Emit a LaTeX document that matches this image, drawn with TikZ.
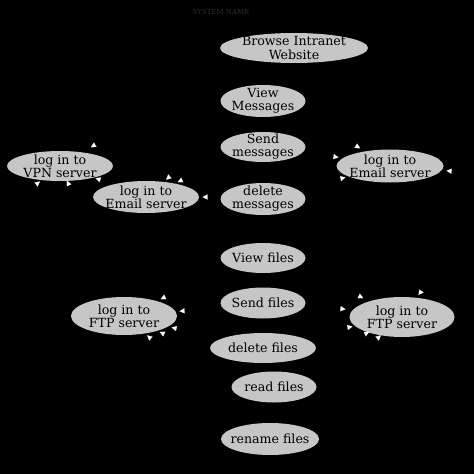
\documentclass[tikz,border=0pt]{standalone}
\usepackage{fontspec}
\setmainfont{DejaVu Serif}
\usetikzlibrary{arrows.meta,calc,shapes.geometric}
\tikzset{
  uc/.style={ellipse, fill=ucgray, draw=none, inner sep=0pt},
  lbl/.style={inner sep=0pt, align=center,
    font=\fontsize{12.6}{13.2}\selectfont, text=black},
  tip/.style={draw=black, line width=0.1pt,
    -{Triangle[color=white, fill=white, length=5pt, width=5pt]}}
}
\definecolor{ucgray}{HTML}{C6C6C6}
\definecolor{titlegray}{HTML}{2E2E2E}
\begin{document}
\begin{tikzpicture}[x=1pt,y=-1pt]
\fill[black] (0,0) rectangle (474,474);
\useasboundingbox (0,0) rectangle (474,474);
\node[text=titlegray, font=\fontsize{7}{7}\selectfont] (title) at (221,12) {SYSTEM NAME};
% use cases (ellipses)
\node[uc, minimum width=148, minimum height=30] (browse) at (294,48) {};
\node[uc, minimum width=85, minimum height=32] (viewm) at (263,101) {};
\node[uc, minimum width=85, minimum height=30] (sendm) at (263,147) {};
\node[uc, minimum width=85, minimum height=32] (delm) at (263,199) {};
\node[uc, minimum width=85, minimum height=30] (viewf) at (263,258) {};
\node[uc, minimum width=85, minimum height=31] (sendf) at (263,303) {};
\node[uc, minimum width=106, minimum height=30] (delf) at (263,348) {};
\node[uc, minimum width=85, minimum height=31] (readf) at (274,387) {};
\node[uc, minimum width=98, minimum height=32] (renf) at (270,439) {};
\node[uc, minimum width=106, minimum height=30] (vpn) at (60,166) {};
\node[uc, minimum width=106, minimum height=32] (emailL) at (146,197) {};
\node[uc, minimum width=107, minimum height=33] (emailR) at (390,166) {};
\node[uc, minimum width=106, minimum height=38] (ftpL) at (124,316) {};
\node[uc, minimum width=105, minimum height=40] (ftpR) at (402,317) {};
% labels
\node[lbl] (browseT) at (browse) {Browse Intranet\\Website};
\node[lbl] (viewmT) at (viewm) {View\\Messages};
\node[lbl] (sendmT) at (sendm) {Send\\messages};
\node[lbl] (delmT) at (delm) {delete\\messages};
\node[lbl] (viewfT) at (viewf) {View files};
\node[lbl] (sendfT) at (sendf) {Send files};
\node[lbl] (delfT) at (delf) {delete files};
\node[lbl] (readfT) at (readf) {read files};
\node[lbl] (renfT) at (renf) {rename files};
\node[lbl] (vpnT) at (vpn) {log in to\\VPN server};
\node[lbl] (emailLT) at (emailL) {log in to\\Email server};
\node[lbl] (emailRT) at (emailR) {log in to\\Email server};
\node[lbl] (ftpLT) at (ftpL) {log in to\\FTP server};
\node[lbl] (ftpRT) at (ftpR) {log in to\\FTP server};
% free ends of the (invisible) connectors
\foreach \n/\x/\y in {v1/93/146, v2/38/183, v3/68/183, v4/98/179,
    el1/168/178, el2/180/181, el3/205/197,
    er1/358/147, er2/336/157, er3/343/178, er4/449/171,
    fl1/163/298, fl2/182/311, fl3/174/328, fl4/162/333, fl5/149/337,
    fr1/361/297, fr2/420/293, fr3/343/309, fr4/350/327, fr5/367/333, fr6/379/337}
  \coordinate (\n) at (\x,\y);
\foreach \c/\t in {v1/vpn, v2/vpn, v3/vpn, v4/vpn,
    el1/emailL, el2/emailL, el3/emailL,
    er1/emailR, er2/emailR, er3/emailR, er4/emailR,
    fl1/ftpL, fl2/ftpL, fl3/ftpL, fl4/ftpL, fl5/ftpL,
    fr1/ftpR, fr2/ftpR, fr3/ftpR, fr4/ftpR, fr5/ftpR, fr6/ftpR}
  \draw[tip] ($(\c)!-2.5pt!(\t.center)$) -- ($(\c)!2.5pt!(\t.center)$);
\end{tikzpicture}
\end{document}
